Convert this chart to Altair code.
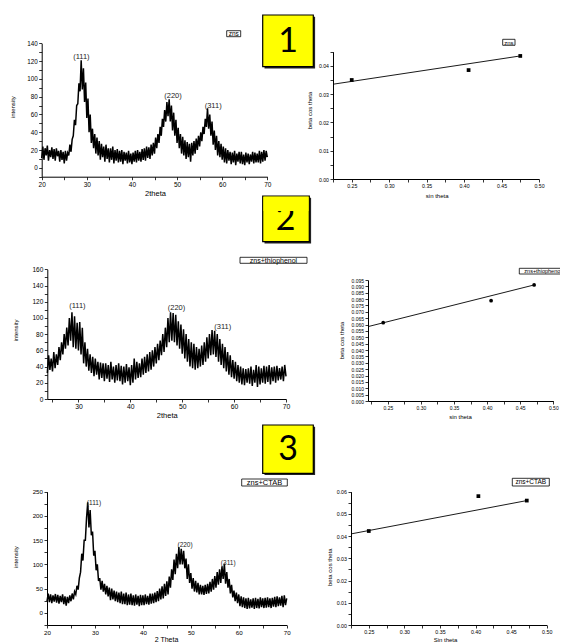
import altair as alt
import pandas as pd

FONT = "Liberation Sans"
CW, CH = 552, 640

# ---------------- XRD patterns: 2theta grid (start, step) + intensities ----------------
ZNS_START, ZNS_STEP = 20.0, 0.25
zns_intensity = [
    11, 24, 9, 22,  14, 25, 8, 20,  12, 23, 10, 21,  8, 22, 13, 19,  7, 20, 9, 18,
    5, 19, 8, 17,  14, 26, 18, 32,  36, 54, 48, 70,  72, 95, 86, 121,  88, 112, 74, 96,
    56, 78, 40, 60,  28, 44, 22, 38,  16, 34, 14, 30,  9, 27, 12, 24,  7, 26, 10, 22,
    6, 22, 9, 24,  5, 20, 8, 21,  6, 19, 7, 20,  4, 18, 8, 17,  5, 19, 6, 16,
    4, 17, 7, 19,  6, 20, 8, 18,  7, 21, 9, 22,  8, 24, 11, 23,  10, 26, 14, 28,
    16, 34, 22, 38,  28, 46, 36, 55,  46, 65, 52, 74,  58, 77, 52, 70,  42, 62, 36, 54,
    28, 45, 22, 38,  16, 35, 14, 31,  10, 29, 12, 27,  7, 28, 14, 30,  16, 33, 20, 36,
    24, 40, 30, 46,  38, 55, 46, 67,  44, 60, 36, 52,  26, 42, 20, 36,  14, 30, 12, 27,
    9, 24, 6, 22,  5, 20, 8, 18,  4, 17, 6, 19,  3, 16, 7, 18,  5, 18, 4, 15,
    3, 17, 6, 16,  4, 15, 7, 18,  5, 17, 6, 16,  6, 19, 5, 18,  7, 20, 8, 19,
    12,
]

THIO_START, THIO_STEP = 24.0, 0.25
thio_intensity = [
    32, 54, 36, 50,  34, 58, 38, 55,  42, 64, 48, 70,  55, 80, 62, 88,  66, 100, 72, 107,
    64, 102, 62, 94,  60, 95, 55, 88,  44, 70, 40, 62,  35, 55, 32, 52,  28, 50, 30, 46,
    24, 45, 26, 44,  22, 44, 25, 42,  21, 46, 24, 40,  20, 42, 23, 44,  22, 41, 18, 40,
    20, 43, 22, 39,  17, 42, 20, 50,  24, 46, 26, 44,  27, 50, 30, 52,  32, 55, 34, 58,
    36, 60, 40, 64,  44, 68, 48, 72,  54, 80, 58, 88,  64, 100, 70, 107,  72, 106, 70, 104,
    66, 96, 62, 92,  56, 86, 50, 80,  46, 74, 40, 70,  38, 68, 36, 64,  38, 62, 40, 66,
    42, 70, 46, 76,  50, 80, 54, 85,  55, 84, 52, 80,  46, 74, 42, 68,  38, 64, 34, 58,
    30, 54, 27, 48,  25, 46, 22, 42,  20, 40, 18, 38,  17, 37, 20, 38,  19, 40, 16, 36,
    20, 42, 15, 40,  18, 38, 20, 41,  19, 40, 21, 42,  18, 39, 22, 40,  20, 41, 23, 38,
    24, 40, 22, 42,
    28,
]

CTAB_START, CTAB_STEP = 20.0, 0.25
ctab_intensity = [
    24, 40, 22, 38,  20, 36, 23, 39,  21, 37, 19, 35,  22, 38, 18, 34,  15, 33, 20, 36,
    24, 40, 28, 44,  38, 56, 48, 72,  84, 122, 108, 150,  150, 196, 228, 176,  212, 160, 168, 118,
    128, 88, 100, 66,  72, 48, 66, 44,  60, 38, 56, 34,  52, 26, 50, 28,  46, 24, 44, 22,
    42, 20, 44, 18,  40, 18, 42, 16,  38, 17, 40, 16,  36, 15, 38, 17,  35, 14, 37, 16,
    36, 16, 38, 18,  35, 17, 40, 19,  40, 20, 42, 22,  45, 24, 50, 28,  55, 30, 60, 35,
    65, 38, 75, 52,  90, 68, 110, 80,  122, 92, 136, 100,  132, 100, 128, 92,  112, 70, 100, 62,
    82, 50, 72, 44,  66, 42, 62, 38,  58, 38, 56, 37,  58, 39, 60, 40,  64, 44, 70, 48,
    76, 52, 84, 58,  90, 62, 96, 70,  102, 60, 84, 52,  70, 40, 58, 32,  46, 24, 42, 20,
    38, 14, 34, 12,  32, 10, 30, 8,  31, 9, 28, 11,  30, 8, 31, 10,  29, 9, 32, 12,
    30, 10, 31, 11,  32, 12, 30, 10,  31, 13, 33, 12,  34, 14, 32, 15,  35, 12, 36, 16,
    30,
]

peak_labels = ["(111)", "(220)", "(311)"]
zns_peak_x, zns_peak_y = [28.8, 49.1, 58.0], [125, 81, 69]
thio_peak_x, thio_peak_y = [29.8, 48.9, 57.8], [115, 112, 89]
ctab_peak_x, ctab_peak_y = [29.8, 48.8, 57.8], [227, 140, 102]

# ---------------- Williamson-Hall plots ----------------
zns_sin, zns_bcos = [0.25, 0.406, 0.475], [0.035, 0.0385, 0.0435]
zns_fit_sin, zns_fit_bcos = [0.225, 0.475], [0.0335, 0.0435]
thio_sin, thio_bcos = [0.243, 0.406, 0.471], [0.0615, 0.0788, 0.0911]
thio_fit_sin, thio_fit_bcos = [0.22, 0.471], [0.0584, 0.0911]
ctab_sin, ctab_bcos = [0.25, 0.404, 0.472], [0.0423, 0.058, 0.056]
ctab_fit_sin, ctab_fit_bcos = [0.225, 0.472], [0.041, 0.056]

# ---------------- tick values ----------------
two_theta_ticks = [20, 25, 30, 35, 40, 45, 50, 55, 60, 65, 70]
two_theta_ticks_thio = [25, 30, 35, 40, 45, 50, 55, 60, 65, 70]
zns_int_ticks = [-10, 0, 10, 20, 30, 40, 50, 60, 70, 80, 90, 100, 110, 120, 130, 140]
thio_int_ticks = [0, 10, 20, 30, 40, 50, 60, 70, 80, 90, 100, 110, 120, 130, 140, 150, 160]
ctab_int_ticks = [-25, 0, 25, 50, 75, 100, 125, 150, 175, 200, 225, 250]
sin_ticks = [0.225, 0.25, 0.275, 0.3, 0.325, 0.35, 0.375, 0.4, 0.425, 0.45, 0.475, 0.5]
zns_bc_ticks = [0, 0.005, 0.01, 0.015, 0.02, 0.025, 0.03, 0.035, 0.04, 0.045]
thio_bc_ticks = [0, 0.005, 0.01, 0.015, 0.02, 0.025, 0.03, 0.035, 0.04, 0.045, 0.05,
                 0.055, 0.06, 0.065, 0.07, 0.075, 0.08, 0.085, 0.09, 0.095]
ctab_bc_ticks = [0, 0.005, 0.01, 0.015, 0.02, 0.025, 0.03, 0.035, 0.04, 0.045, 0.05, 0.055, 0.06]

legend_names = ["zns", "zns+thiophenol", "zns+CTAB"]
box_numbers = ["1", "2", "3"]


def axis(orient, values, major, fmt, size, title, tsize, title_x, title_y, offset):
    test = f"abs(datum.value / {major} - round(datum.value / {major})) < 0.01"
    kw = dict(orient=orient, values=values, format=fmt, offset=offset, grid=False,
              labelExpr=f"{test} ? datum.label : ''",
              labelFont=FONT, labelFontSize=size, labelColor="black", labelPadding=1.5,
              labelFlush=False, labelOverlap=False,
              tickSize=3, tickWidth=0.8, tickColor="black",
              domainColor="black", domainWidth=1,
              title=title, titleFont=FONT, titleFontSize=tsize, titleFontWeight="normal",
              titleColor="black", titleX=title_x, titleY=title_y,
              titleAlign="center", titleBaseline="middle")
    if orient == "left":
        kw["titleAngle"] = 270
    return alt.Axis(**kw)


def lin(domain, rng):
    return alt.Scale(domain=domain, range=rng, nice=False, zero=False)


def xrd_layers(start, step, intens, px, py, xs, ys, xaxis, yaxis, lab_size):
    df = pd.DataFrame({"tt": [start + i * step for i in range(len(intens))], "I": intens})
    line = alt.Chart(df).mark_line(color="black", strokeWidth=1.5).encode(
        x=alt.X("tt:Q", scale=xs, axis=xaxis),
        y=alt.Y("I:Q", scale=ys, axis=yaxis),
    )
    pk = pd.DataFrame({"tt": px, "I": py, "lab": peak_labels})
    txt = alt.Chart(pk).mark_text(font=FONT, fontSize=lab_size, color="#222222").encode(
        x=alt.X("tt:Q", scale=xs, axis=None),
        y=alt.Y("I:Q", scale=ys, axis=None),
        text="lab:N",
    )
    return [line, txt]


def wh_layers(px, py, fx, fy, xs, ys, xaxis, yaxis, shape):
    fit = pd.DataFrame({"s": fx, "b": fy})
    pts = pd.DataFrame({"s": px, "b": py})
    fl = alt.Chart(fit).mark_line(color="black", strokeWidth=0.9).encode(
        x=alt.X("s:Q", scale=xs, axis=xaxis),
        y=alt.Y("b:Q", scale=ys, axis=yaxis),
    )
    pl = alt.Chart(pts).mark_point(shape=shape, filled=True, size=14, color="black", opacity=1).encode(
        x=alt.X("s:Q", scale=xs, axis=None),
        y=alt.Y("b:Q", scale=ys, axis=None),
    )
    return [fl, pl]


def box(x1, x2, y1, y2, fill, stroke_w):
    return alt.Chart(pd.DataFrame({"k": [0]})).mark_rect(
        fill=fill, stroke="black", strokeWidth=stroke_w
    ).encode(x=alt.value(x1), x2=alt.value(x2), y=alt.value(y1), y2=alt.value(y2))


def plain_rect(x1, x2, y1, y2, fill):
    return alt.Chart(pd.DataFrame({"k": [0]})).mark_rect(fill=fill).encode(
        x=alt.value(x1), x2=alt.value(x2), y=alt.value(y1), y2=alt.value(y2))


def label(text, cx, cy, size, font=FONT):
    return alt.Chart(pd.DataFrame({"t": [text]})).mark_text(
        font=font, fontSize=size, color="black", align="center", baseline="middle"
    ).encode(x=alt.value(cx), y=alt.value(cy), text="t:N")


def number_box(x1, x2, y1, y2, text, cx, cy):
    return [
        plain_rect(x1 + 1.8, x2 + 1.8, y1 + 1.8, y2 + 1.8, "#222222"),
        box(x1, x2, y1, y2, "#FFFF00", 1.2),
        label(text, cx, cy, 34, "Lato"),
    ]


# ---------------- panels ----------------
xrd1 = xrd_layers(
    ZNS_START, ZNS_STEP, zns_intensity, zns_peak_x, zns_peak_y,
    lin([20, 70], [33.7, 259.3]), lin([-10, 140], [168.7, 35.3]),
    axis("bottom", two_theta_ticks, 10, "d", 6.5, "2theta", 7.5, 147, 16.3, 168.7 - CH),
    axis("left", zns_int_ticks, 20, "d", 6.3, "intensity", 6, -29, 98.7, -33.7),
    7.5,
)
wh1 = wh_layers(
    zns_sin, zns_bcos, zns_fit_sin, zns_fit_bcos,
    lin([0.225, 0.5], [325, 531]), lin([0, 0.045], [171, 43.7]),
    axis("bottom", sin_ticks, 0.05, ".2f", 5.2, "sin theta", 6, 428.7, 16, 171 - CH),
    axis("left", zns_bc_ticks, 0.01, ".2f", 5.2, "beta cos theta", 6, -23.7, 102, -325),
    "square",
)
xrd2 = xrd_layers(
    THIO_START, THIO_STEP, thio_intensity, thio_peak_x, thio_peak_y,
    lin([24, 70], [39.3, 278]), lin([0, 160], [391, 261.3]),
    axis("bottom", two_theta_ticks_thio, 10, "d", 6.8, "2theta", 7.5, 158.7, 16, 391 - CH),
    axis("left", thio_int_ticks, 20, "d", 6.5, "intensity", 6, -32.3, 322, -39.3),
    7.5,
)
wh2 = wh_layers(
    thio_sin, thio_bcos, thio_fit_sin, thio_fit_bcos,
    lin([0.22, 0.5], [360, 545.3]), lin([0, 0.095], [393, 272]),
    axis("bottom", sin_ticks, 0.05, ".2f", 5.0, "sin theta", 6, 452, 15.7, 393 - CH),
    axis("left", thio_bc_ticks, 0.005, ".3f", 5.0, "beta cos theta", 6, -26.3, 332, -360),
    "circle",
)
xrd3 = xrd_layers(
    CTAB_START, CTAB_STEP, ctab_intensity, ctab_peak_x, ctab_peak_y,
    lin([20, 70], [39, 278.7]), lin([-25, 250], [617, 483.7]),
    axis("bottom", two_theta_ticks, 10, "d", 6.2, "2 Theta", 7, 158, 14, 617 - CH),
    axis("left", ctab_int_ticks, 50, "d", 6.2, "intensity", 6, -32, 548.7, -39),
    6.5,
)
wh3 = wh_layers(
    ctab_sin, ctab_bcos, ctab_fit_sin, ctab_fit_bcos,
    lin([0.225, 0.5], [343, 538.7]), lin([0, 0.06], [617, 483.7]),
    axis("bottom", sin_ticks, 0.05, ".2f", 5.3, "Sin theta", 6, 437, 14, 617 - CH),
    axis("left", ctab_bc_ticks, 0.01, ".2f", 5.3, "beta cos theta", 6, -21.7, 558.7, -343),
    "square",
)

# ---------------- legend boxes ----------------
legends = [
    box(218.7, 232.7, 22.7, 28.7, "white", 0.8), label(legend_names[0], 225.7, 25.9, 6.5),
    box(494.7, 507.0, 31.3, 37.3, "white", 0.8), label(legend_names[0], 500.8, 34.5, 6),
    box(232.0, 299.0, 249.3, 255.3, "white", 0.8), label(legend_names[1], 265.5, 252.5, 7),
    box(511.3, 558.5, 260.3, 266.0, "white", 0.8), label(legend_names[1], 534.9, 263.3, 5.5),
    box(233.7, 279.3, 471.0, 478.0, "white", 0.8), label(legend_names[2], 256.5, 474.7, 7.5),
    box(504.3, 541.3, 470.3, 478.0, "white", 0.8), label(legend_names[2], 522.8, 474.3, 6.5),
]

# ---------------- yellow number boxes ----------------
numbers = (
    number_box(254.7, 305.3, 7.0, 58.7, box_numbers[0], 280, 34)
    + number_box(254.7, 301.3, 188.0, 233.7, box_numbers[1], 277.5, 212)
    + [plain_rect(255.5, 300.5, 188.8, 203.0, "#FFFF00")]
    + number_box(254.7, 305.3, 417.0, 465.3, box_numbers[2], 280, 442)
)

chart = (
    alt.layer(*xrd1, *wh1, *xrd2, *wh2, *xrd3, *wh3, *legends, *numbers)
    .resolve_scale(x="independent", y="independent")
    .resolve_axis(x="independent", y="independent")
    .properties(width=CW, height=CH, autosize=alt.AutoSizeParams(type="none"),
                padding={"left": 0, "top": 0, "right": 0, "bottom": 0}, background="white")
    .configure_view(strokeOpacity=0)
)

chart.save("out.html", embed_options={"renderer": "svg", "actions": False})
